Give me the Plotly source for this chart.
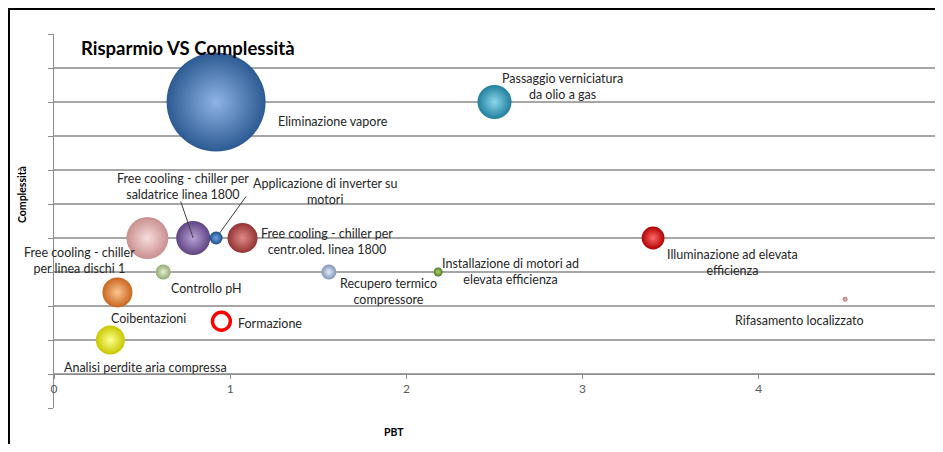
import plotly.graph_objects as go

# ---- data ----
progetti = [
    "Eliminazione vapore",
    "Passaggio verniciatura<br>da olio a gas",
    "Free cooling - chiller<br>per linea dischi 1",
    "Free cooling - chiller per<br>saldatrice linea 1800",
    "Applicazione di inverter su<br>motori",
    "Free cooling - chiller per<br>centr.oled. linea 1800",
    "Controllo pH",
    "Coibentazioni",
    "Analisi perdite aria compressa",
    "Recupero termico<br>compressore",
    "Installazione di motori ad<br>elevata efficienza",
    "Illuminazione ad elevata<br>efficienza",
    "Rifasamento localizzato",
]
pbt = [0.92, 2.5, 0.53, 0.79, 0.92, 1.07, 0.62, 0.36, 0.32, 1.56, 2.18, 3.4, 4.49]
complessita = [8, 8, 4, 4, 4, 4, 3, 2.4, 1, 3, 3, 4, 2.2]
risparmio = [245, 29, 44, 29, 4.2, 22.5, 5.6, 22.5, 21, 5.6, 2, 13, 0.6]

formazione_nome = "Formazione"
formazione_pbt = [0.95]
formazione_compl = [1.55]
formazione_risp = [8]

x_ticks = [0, 1, 2, 3, 4, 5]

# ---- styles ----
edge_colors = ["#2c5a92", "#1f7f9c", "#c98f8f", "#5e4482", "#1d4f8a", "#933231",
               "#93a872", "#c9651f", "#c8c800", "#8194b8", "#4f7a1f", "#b00000", "#b87472"]
light_colors = ["#8fb4e6", "#8cd6ec", "#f8dcdc", "#b8a2d6", "#6fa4e0", "#e08c8a",
                "#e6f0d4", "#fcc690", "#ffff90", "#e4ebf7", "#b0d478", "#ff6a6a", "#eebdbb"]
# label offsets (px) relative to bubble center: (dx, dy_down)
label_off = [(117, 19), (68, -16), (-68, 22), (-10, -52), (109, -47), (84, 3),
             (43, 16), (31, 26), (35, 27), (60, 19), (72, -1), (79, 24), (-46, 21)]

max_diam = 99
sizeref = 2.0 * max(risparmio) / (max_diam ** 2)

fig = go.Figure()
fig.add_trace(go.Scatter(
    x=pbt, y=complessita, mode="markers",
    marker=dict(size=risparmio, sizemode="area", sizeref=sizeref,
                color=edge_colors, opacity=1,
                gradient=dict(type="radial", color=light_colors),
                line=dict(width=0)),
    hovertext=[p.replace("<br>", " ") for p in progetti], hoverinfo="text",
    showlegend=False,
))
fig.add_trace(go.Scatter(
    x=formazione_pbt, y=formazione_compl, mode="markers",
    marker=dict(size=formazione_risp, sizemode="area", sizeref=sizeref,
                symbol="circle-open", color="#ff0000", opacity=1,
                line=dict(width=3.5, color="#ff0000")),
    hovertext=[formazione_nome], hoverinfo="text", showlegend=False,
))

font_family = "Lato, Carlito, Calibri, sans-serif"
label_color = "#262626"
lab_size = 12.5
annotations = []
for name, xv, yv, (dx, dy) in zip(progetti, pbt, complessita, label_off):
    annotations.append(dict(
        x=xv, y=yv, xref="x", yref="y", text=name, showarrow=False,
        xshift=dx, yshift=-dy, align="center",
        font=dict(family=font_family, size=lab_size, color=label_color),
    ))
annotations.append(dict(
    x=formazione_pbt[0], y=formazione_compl[0], xref="x", yref="y",
    text=formazione_nome, showarrow=False, xshift=49, yshift=-2,
    font=dict(family=font_family, size=lab_size, color=label_color),
))
# leader lines
annotations.append(dict(x=pbt[3], y=complessita[3], xref="x", yref="y", text="",
                        showarrow=True, arrowhead=0, arrowwidth=1, arrowcolor="#404040",
                        ax=-13, ay=-38, standoff=0))
annotations.append(dict(x=pbt[4], y=complessita[4], xref="x", yref="y", text="",
                        showarrow=True, arrowhead=0, arrowwidth=1, arrowcolor="#404040",
                        ax=31, ay=-43, standoff=5))
# titles
annotations.append(dict(x=0.0284, y=0.9626, xref="paper", yref="paper",
                        text="<b>Risparmio VS Complessità</b>", showarrow=False,
                        xanchor="left", yanchor="middle",
                        font=dict(family=font_family, size=18.5, color="#000000")))
annotations.append(dict(x=-0.0363, y=0.5695, xref="paper", yref="paper",
                        text="<b>Complessità</b>", showarrow=False, textangle=-90,
                        xanchor="center", yanchor="middle",
                        font=dict(family=font_family, size=10.5, color="#000000")))
annotations.append(dict(x=0.386, y=-0.0642, xref="paper", yref="paper",
                        text="<b>PBT</b>", showarrow=False,
                        xanchor="center", yanchor="middle",
                        font=dict(family=font_family, size=10.5, color="#000000")))

# page body has an 8px margin: keep the figure inside the window to avoid scrollbars
fig.update_layout(
    width=927, height=436, autosize=False,
    margin=dict(l=46, r=0, t=26, b=36),
    paper_bgcolor="white", plot_bgcolor="white",
    annotations=annotations,
    shapes=[dict(type="rect", xref="paper", yref="paper",
                 x0=-0.0511, x1=1.02, y0=-0.12, y1=1.0668,
                 line=dict(color="#000000", width=2), layer="above")],
    xaxis=dict(range=[0, 5], tickvals=x_ticks, ticktext=[str(t) for t in x_ticks],
               showgrid=False, zeroline=False, showline=True,
               linecolor="#8c8c8c", linewidth=1, ticks="outside", ticklen=4,
               tickcolor="#8c8c8c", anchor="free", position=1 / 11,
               tickfont=dict(family=font_family, size=12, color="#595959")),
    yaxis=dict(range=[-1, 10], dtick=1, showgrid=True, gridcolor="#a6a6a6",
               gridwidth=1.5, zeroline=False, showline=True, linecolor="#8c8c8c",
               linewidth=1, ticks="outside", ticklen=5, tickcolor="#8c8c8c",
               showticklabels=False),
    hovermode="closest",
)

fig.write_html("out.html", config={"displayModeBar": False})
